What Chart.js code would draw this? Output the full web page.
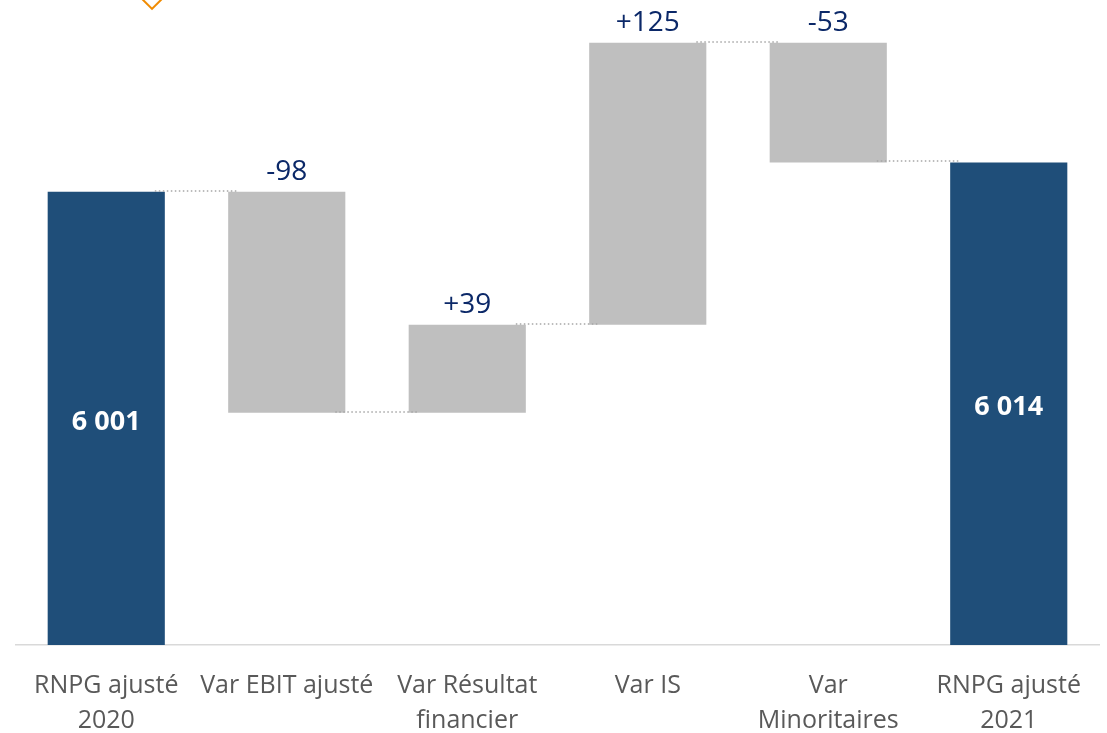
<!DOCTYPE html>
<html>
<head>
<meta charset="utf-8">
<script src="https://cdn.jsdelivr.net/npm/chart.js@4.4.1/dist/chart.umd.min.js"></script>
<style>
  html, body { margin: 0; padding: 0; background: #ffffff; }
  #wrap { position: relative; width: 1107px; height: 733px; overflow: hidden; }
  #chevron { position: absolute; left: 144px; top: -9px; width: 14px; height: 14px;
             border-right: 2px solid #f08a00; border-bottom: 2px solid #f08a00;
             transform: rotate(45deg); }
</style>
</head>
<body>
<div id="wrap">
  <canvas id="c" width="1107" height="733"></canvas>
  <div id="chevron"></div>
</div>
<script>
// ---- data ----
const categories = [
  ["RNPG ajusté", "2020"],
  ["Var EBIT ajusté"],
  ["Var Résultat", "financier"],
  ["Var IS"],
  ["Var", "Minoritaires"],
  ["RNPG ajusté", "2021"]
];
const startTotal = 6001;
const variations = [-98, 39, 125, -53];
const endTotal = 6014;
const axisMin = 5800;
const axisMax = 6086;

// ---- build floating ranges ----
const ranges = [];
const levels = [];
ranges.push([axisMin, startTotal]);
levels.push(startTotal);
let run = startTotal;
variations.forEach(v => {
  const next = run + v;
  ranges.push([Math.min(run, next), Math.max(run, next)]);
  run = next;
  levels.push(run);
});
ranges.push([axisMin, endTotal]);

const isTotal = i => i === 0 || i === ranges.length - 1;
const fmtTotal = n => String(n).replace(/\B(?=(\d{3})+(?!\d))/g, " ");
const fmtVar = n => (n > 0 ? "+" : "") + n;

const labelPlugin = {
  id: 'wfLabels',
  afterDatasetsDraw(chart) {
    const ctx = chart.ctx;
    const meta = chart.getDatasetMeta(0);
    const ys = chart.scales.y;
    ctx.save();
    // connectors
    ctx.strokeStyle = '#a6a6a6';
    ctx.lineWidth = 1.5;
    ctx.setLineDash([1.5, 2.5]);
    for (let i = 0; i < meta.data.length - 1; i++) {
      const a = meta.data[i], b = meta.data[i + 1];
      const y = Math.round(ys.getPixelForValue(levels[i])) - 1;
      const x1 = a.x + a.width / 2 - 10;
      const x2 = b.x - b.width / 2 + 9;
      ctx.beginPath();
      ctx.moveTo(x1, y);
      ctx.lineTo(x2, y);
      ctx.stroke();
    }
    ctx.setLineDash([]);
    // value labels
    ctx.textAlign = 'center';
    meta.data.forEach((bar, i) => {
      if (isTotal(i)) {
        const v = i === 0 ? startTotal : endTotal;
        ctx.fillStyle = '#ffffff';
        ctx.font = 'bold 27px "Open Sans"';
        ctx.textBaseline = 'middle';
        ctx.fillText(fmtTotal(v), bar.x, (bar.y + bar.base) / 2 + 4);
      } else {
        const v = variations[i - 1];
        const top = Math.min(bar.y, bar.base);
        ctx.fillStyle = '#0b2868';
        ctx.font = '28px "Open Sans"';
        ctx.textBaseline = 'alphabetic';
        ctx.fillText(fmtVar(v), bar.x, top - 12);
      }
    });
    ctx.restore();
  }
};

new Chart(document.getElementById('c'), {
  type: 'bar',
  data: {
    labels: categories,
    datasets: [{
      data: ranges,
      backgroundColor: ranges.map((r, i) => isTotal(i) ? '#1f4e79' : '#bfbfbf'),
      borderWidth: 0,
      borderSkipped: false,
      categoryPercentage: 1.0,
      barPercentage: 0.649
    }]
  },
  options: {
    responsive: false,
    animation: false,
    events: [],
    layout: { padding: { left: 16, right: 8, top: 0, bottom: 0 } },
    plugins: { legend: { display: false }, tooltip: { enabled: false } },
    scales: {
      x: {
        grid: { display: false, drawTicks: false, tickLength: 0 },
        border: { display: true, color: '#d9d9d9', width: 1.5 },
        ticks: {
          color: '#595959',
          font: { family: '"Open Sans"', size: 25, lineHeight: 1.38 },
          padding: 24,
          maxRotation: 0,
          autoSkip: false
        },
        afterFit(scale) { scale.height = 88; }
      },
      y: {
        display: false,
        min: axisMin,
        max: axisMax
      }
    }
  },
  plugins: [labelPlugin]
});
</script>
</body>
</html>
